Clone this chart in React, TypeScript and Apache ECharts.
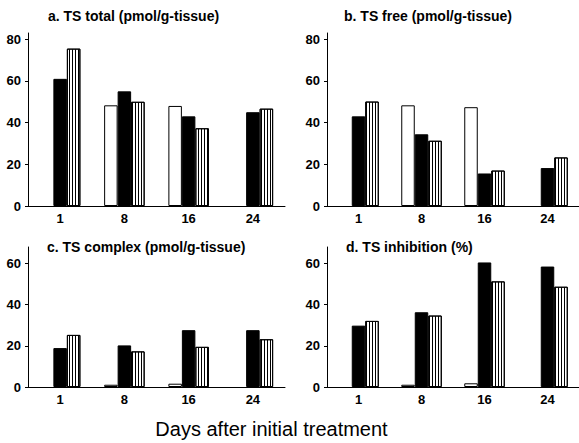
import React, { useEffect, useRef } from 'react';
import * as echarts from 'echarts';

const days = ['1', '8', '16', '24'];
const panelTitles = [
  'a. TS total (pmol/g-tissue)',
  'b. TS free (pmol/g-tissue)',
  'c. TS complex (pmol/g-tissue)',
  'd. TS inhibition (%)',
];
const xAxisTitle = 'Days after initial treatment';

const totalOpen = [null, 48.3, 48, null];
const totalSolid = [61, 55, 43, 45];
const totalHatched = [75.5, 50, 37.3, 46.7];

const freeOpen = [null, 48.3, 47.4, null];
const freeSolid = [43, 34.4, 15.6, 18.2];
const freeHatched = [50.1, 31.3, 17, 23.3];

const complexOpen = [null, 1.1, 1.6, null];
const complexSolid = [18.9, 20.2, 27.6, 27.6];
const complexHatched = [25.3, 17.3, 19.5, 23.2];

const inhibOpen = [null, 1.1, 1.8, null];
const inhibSolid = [29.8, 36.3, 60.5, 58.5];
const inhibHatched = [32.1, 34.7, 51.3, 48.7];

const ticksTop = [0, 20, 40, 60, 80];
const ticksBottom = [0, 20, 40, 60];

const FONT = "'Liberation Sans', Arial, Helvetica, sans-serif";

export default function App() {
  const ref = useRef<HTMLDivElement>(null);

  useEffect(() => {
    if (!ref.current) return;
    const chart = echarts.init(ref.current, null, { renderer: 'svg' });

    const grids = [
      { left: 28, top: 33, width: 257, height: 173 },
      { left: 327, top: 33, width: 257, height: 173 },
      { left: 28, top: 247, width: 257, height: 140 },
      { left: 327, top: 247, width: 257, height: 140 },
    ];
    const yMax = [83, 83, 68, 68];
    const yTicks = [ticksTop, ticksTop, ticksBottom, ticksBottom];
    const titlePos = [
      { left: 48, top: 9 },
      { left: 344, top: 9 },
      { left: 47, top: 240 },
      { left: 346, top: 240 },
    ];
    const panelData = [
      [totalOpen, totalSolid, totalHatched],
      [freeOpen, freeSolid, freeHatched],
      [complexOpen, complexSolid, complexHatched],
      [inhibOpen, inhibSolid, inhibHatched],
    ];

    const series: any[] = [];
    panelData.forEach((set, i) => {
      series.push({
        type: 'bar',
        name: 'open',
        xAxisIndex: i,
        yAxisIndex: i,
        data: set[0],
        barWidth: 13.5,
        barGap: '0%',
        itemStyle: { color: '#ffffff', borderColor: '#000', borderWidth: 1 },
      });
      series.push({
        type: 'bar',
        name: 'solid',
        xAxisIndex: i,
        yAxisIndex: i,
        data: set[1],
        barWidth: 13.5,
        barGap: '0%',
        itemStyle: { color: '#000000', borderColor: '#000', borderWidth: 1 },
      });
      series.push({
        type: 'bar',
        name: 'hatched',
        xAxisIndex: i,
        yAxisIndex: i,
        data: set[2],
        barWidth: 13.5,
        barGap: '0%',
        itemStyle: {
          color: '#ffffff',
          borderColor: '#000',
          borderWidth: 1,
          decal: {
            symbol: 'rect',
            symbolSize: 1,
            color: '#000000',
            backgroundColor: 'transparent',
            dashArrayX: [1, 2],
            dashArrayY: [5, 0],
            rotation: 0,
          },
        },
      });
    });

    const option: any = {
      animation: false,
      title: panelTitles.map((t, i) => ({
        text: t,
        left: titlePos[i].left,
        top: titlePos[i].top,
        padding: 0,
        textStyle: { fontFamily: FONT, fontSize: 14, fontWeight: 'bold', color: '#000' },
      })),
      grid: grids,
      xAxis: grids.map((_, i) => ({
        type: 'category',
        gridIndex: i,
        data: days,
        axisLine: { show: true, lineStyle: { color: '#000', width: 1 } },
        axisTick: { show: false },
        axisLabel: {
          margin: 6,
          fontFamily: FONT,
          fontSize: 13,
          fontWeight: 'bold',
          color: '#000',
        },
        splitLine: { show: false },
      })),
      yAxis: grids.map((_, i) => ({
        type: 'value',
        gridIndex: i,
        min: 0,
        max: yMax[i],
        axisLine: { show: true, lineStyle: { color: '#000', width: 1 } },
        axisTick: {
          show: true,
          length: 3,
          lineStyle: { color: '#000' },
          customValues: yTicks[i],
        },
        axisLabel: {
          margin: 7,
          fontFamily: FONT,
          fontSize: 13,
          fontWeight: 'bold',
          color: '#000',
          customValues: yTicks[i],
        },
        splitLine: { show: false },
      })),
      graphic: [
        {
          type: 'text',
          x: 271.5,
          y: 429,
          style: {
            text: xAxisTitle,
            fontFamily: FONT,
            fontSize: 20,
            fill: '#000',
            textAlign: 'center',
            textVerticalAlign: 'middle',
          },
        },
      ],
      series,
    };

    chart.setOption(option);
    return () => chart.dispose();
  }, []);

  return (
    <div
      ref={ref}
      style={{ position: 'absolute', left: 0, top: 0, width: 579, height: 443, background: '#fff' }}
    />
  );
}
